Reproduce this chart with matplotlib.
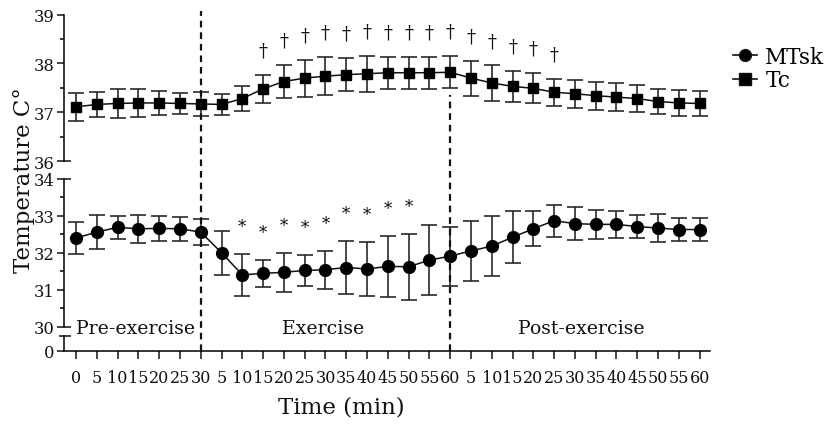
import matplotlib
matplotlib.use("Agg")
import matplotlib.pyplot as plt
from matplotlib.lines import Line2D
import numpy as np

# ---------------- data ----------------
xtick_labels = ["0", "5", "10", "15", "20", "25", "30",
                "5", "10", "15", "20", "25", "30", "35", "40", "45", "50", "55", "60",
                "5", "10", "15", "20", "25", "30", "35", "40", "45", "50", "55", "60"]
tc_mean = [37.11, 37.16, 37.18, 37.19, 37.19, 37.18, 37.17, 37.16, 37.28, 37.48,
           37.63, 37.70, 37.74, 37.77, 37.79, 37.81, 37.81, 37.81, 37.82, 37.70,
           37.60, 37.53, 37.49, 37.41, 37.38, 37.34, 37.31, 37.28, 37.22, 37.19, 37.18]
tc_err = [0.28, 0.26, 0.30, 0.28, 0.25, 0.22, 0.24, 0.22, 0.25, 0.29,
          0.34, 0.38, 0.39, 0.34, 0.37, 0.33, 0.33, 0.33, 0.33, 0.36,
          0.36, 0.32, 0.31, 0.28, 0.29, 0.29, 0.29, 0.28, 0.26, 0.26, 0.25]
mtsk_mean = [32.40, 32.56, 32.69, 32.65, 32.66, 32.65, 32.56, 32.00, 31.40, 31.44,
             31.47, 31.52, 31.54, 31.60, 31.56, 31.63, 31.62, 31.80, 31.91, 32.05,
             32.18, 32.42, 32.65, 32.87, 32.79, 32.77, 32.77, 32.71, 32.67, 32.63, 32.63]
mtsk_err = [0.44, 0.46, 0.31, 0.38, 0.35, 0.33, 0.35, 0.59, 0.56, 0.37,
            0.53, 0.41, 0.51, 0.72, 0.74, 0.82, 0.89, 0.95, 0.80, 0.82,
            0.81, 0.71, 0.47, 0.43, 0.44, 0.39, 0.36, 0.32, 0.38, 0.30, 0.31]
tc_sig_idx = list(range(9, 24))     # dagger markers
mtsk_sig_idx = list(range(8, 17))   # asterisk markers
phase_labels = ["Pre-exercise", "Exercise", "Post-exercise"]
phase_bounds = [6, 18]              # index of boundary points (30 min pre, 60 min exercise)

# ---------------- style ----------------
FONT = "DejaVu Serif"
plt.rcParams["font.family"] = [FONT, "DejaVu Sans"]
plt.rcParams["axes.linewidth"] = 1.1
LC = "#111111"
EC = "#2a2a2a"

x = np.arange(len(xtick_labels))
W, H = 825, 435
fig = plt.figure(figsize=(W / 100, H / 100), dpi=100)

left = 64 / W
width = (710 - 64) / W
def rect(top_px, bot_px):
    return [left, 1 - bot_px / H, width, (bot_px - top_px) / H]

ax_top = fig.add_axes(rect(15.7, 162))
ax_mid = fig.add_axes(rect(180, 327.5))
ax_bot = fig.add_axes(rect(337, 351.5))

xlim = (-0.58, 30.5)
for ax in (ax_top, ax_mid, ax_bot):
    ax.set_xlim(*xlim)
    ax.spines["top"].set_visible(False)
    ax.spines["right"].set_visible(False)
    ax.patch.set_alpha(0)
    ax.tick_params(axis="y", labelsize=11.8, length=5, width=1.1, pad=2, colors="#111")
for ax in (ax_top, ax_mid):
    ax.spines["bottom"].set_visible(False)
    ax.tick_params(axis="x", bottom=False, labelbottom=False)
    ax.tick_params(axis="y", which="minor", length=3, width=1.1)

ax_top.set_ylim(36, 39)
ax_top.set_yticks([36, 37, 38, 39])
ax_top.set_yticks([36.5, 37.5, 38.5], minor=True)
ax_mid.set_ylim(30, 34)
ax_mid.set_yticks([30, 31, 32, 33, 34])
ax_mid.set_yticks([30.5, 31.5, 32.5, 33.5], minor=True)
ax_bot.set_ylim(0, 1)
ax_bot.set_yticks([0])

ax_bot.set_xticks(x)
ax_bot.set_xticklabels(xtick_labels, fontsize=11.5)
ax_bot.tick_params(axis="x", length=6, width=1.1, pad=7, colors="#111")

# break marks on spine ends
def brk(ax, yy, l=-0.0, r=0.011):
    ax.plot([l, r], [yy, yy], transform=ax.transAxes, color="#111", lw=1.1,
            clip_on=False, solid_capstyle="butt")
brk(ax_top, 0)
brk(ax_mid, 1)
brk(ax_mid, 0)
brk(ax_bot, 1, l=-0.008)

# ---------------- data series ----------------
ax_top.errorbar(x, tc_mean, yerr=tc_err, fmt="-", color=LC, ecolor=EC, elinewidth=1.2,
                capsize=5.5, capthick=1.2, lw=1.1, marker="s", ms=7.8,
                markerfacecolor="black", markeredgecolor="black", clip_on=False, zorder=3)
ax_mid.errorbar(x, mtsk_mean, yerr=mtsk_err, fmt="-", color=LC, ecolor=EC, elinewidth=1.2,
                capsize=5.5, capthick=1.2, lw=1.1, marker="o", ms=8.5,
                markerfacecolor="black", markeredgecolor="black", clip_on=False, zorder=3)

for i in tc_sig_idx:
    ax_top.text(x[i], tc_mean[i] + tc_err[i] + 0.5, "\u2020", ha="center", va="center",
                fontsize=13, color="#111")
for i in mtsk_sig_idx:
    ax_mid.text(x[i], mtsk_mean[i] + mtsk_err[i] + 0.75, "*", ha="center", va="center",
                fontsize=12, color="#111")

# ---------------- phase dividers ----------------
inv = fig.transFigure.inverted()
def fig_y(ax, yv):
    return inv.transform(ax.transData.transform((0, yv)))[1]
def fig_x(xv):
    return inv.transform(ax_bot.transData.transform((xv, 0)))[0]

y_bottom = fig_y(ax_bot, 0)
div_tops = [fig_y(ax_top, 39.07), fig_y(ax_top, 37.35)]
for b, yt in zip(phase_bounds, div_tops):
    xf = fig_x(x[b])
    fig.add_artist(Line2D([xf, xf], [y_bottom, yt], transform=fig.transFigure,
                          color="#111", lw=1.6, linestyle=(0, (3.0, 2.2)), zorder=5))

# phase labels
ly = 29.72
ax_mid.text(0.0, ly, phase_labels[0], ha="left", va="bottom", fontsize=13.6, color="#111")
ax_mid.text((x[6] + x[18]) / 2 - 0.1, ly, phase_labels[1], ha="center", va="bottom",
            fontsize=13.6, color="#111")
ax_mid.text((x[18] + x[30]) / 2 + 0.3, ly, phase_labels[2], ha="center", va="bottom",
            fontsize=13.6, color="#111")

# axis labels
fig.text(24 / W, 1 - 180 / H, "Temperature C\u00b0", rotation=90, ha="center", va="center",
         fontsize=16.5, color="#111")
fig.text(341 / W, 1 - 408 / H, "Time (min)", ha="center", va="center", fontsize=16.5,
         color="#111")

# legend
handles = [Line2D([], [], color=LC, lw=1.2, marker="o", ms=8.5, markerfacecolor="black"),
           Line2D([], [], color=LC, lw=1.2, marker="s", ms=8, markerfacecolor="black")]
fig.legend(handles, ["MTsk", "Tc"], loc="upper left", bbox_to_anchor=(733 / W, 1 - 47 / H),
           frameon=False, fontsize=15.5, handlelength=1.1, handletextpad=0.4,
           labelspacing=0.05, borderaxespad=0, borderpad=0)

fig.savefig("out.png", dpi=100)
